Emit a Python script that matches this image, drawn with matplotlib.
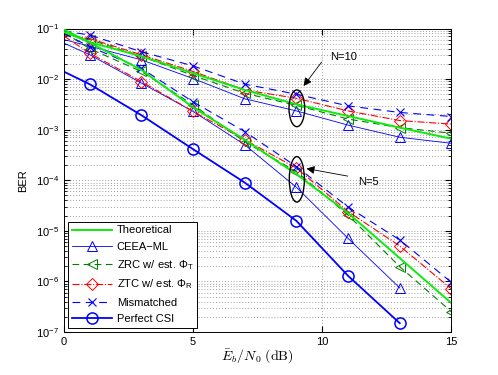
import numpy as np
import matplotlib
matplotlib.use("Agg")
import matplotlib.pyplot as plt
from matplotlib.patches import Ellipse
from matplotlib.ticker import FixedLocator, NullFormatter

plt.rcParams['font.family'] = ['Liberation Sans', 'DejaVu Sans']
plt.rcParams['mathtext.fontset'] = 'cm'

snr = [0, 1, 3, 5, 7, 9, 11, 13, 15]
snr_p = [0, 1, 3, 5, 7, 9, 11, 13]

# log10(BER) values
theo_10 = [-1.07, -1.27, -1.55, -1.885, -2.215, -2.50, -2.73, -2.96, -3.18]
theo_5 = [-1.02, -1.28, -1.82, -2.56, -3.20, -3.88, -4.65, -5.54, -6.43]
ceea_10 = [-1.22, -1.35, -1.62, -1.99, -2.39, -2.63, -2.91, -3.15, -3.27]
ceea_5 = [-1.29, -1.52, -2.08, -2.64, -3.30, -4.14, -5.15, -6.13]
zrc_10 = [-1.10, -1.22, -1.55, -1.93, -2.28, -2.52, -2.79, -2.96, -3.07]
zrc_5 = [-1.08, -1.40, -1.85, -2.51, -3.24, -3.83, -4.69, -5.71, -6.60]
ztc_10 = [-1.13, -1.20, -1.52, -1.85, -2.215, -2.38, -2.63, -2.82, -2.89]
ztc_5 = [-1.15, -1.49, -2.05, -2.64, -3.20, -3.76, -4.62, -5.30, -6.15]
mis_10 = [-1.05, -1.13, -1.46, -1.74, -2.10, -2.30, -2.53, -2.66, -2.74]
mis_5 = [-1.10, -1.36, -1.79, -2.45, -3.04, -3.73, -4.53, -5.18, -6.02]
perf = [-1.854, -2.103, -2.715, -3.387, -4.047, -4.804, -5.891, -6.826]

y_decades = [-7, -6, -5, -4, -3, -2, -1]
x_ticks = [0, 5, 10, 15]

def p(v):
    return 10.0 ** np.array(v, dtype=float)

fig = plt.figure(figsize=(4.98, 3.75), dpi=100)
ax = fig.add_axes([0.1285, 0.1147, 0.778, 0.8093])

G = (0.05, 0.92, 0.05)
DG = (0.0, 0.5, 0.0)
R = (1.0, 0.0, 0.0)
B = (0.0, 0.0, 1.0)
ms = 7
me = list(range(1, 9))

ax.plot(snr, p(theo_10), '-', color=G, lw=1.4, label='Theoretical', zorder=3)
ax.plot(snr, p(theo_5), '-', color=G, lw=1.4, zorder=3)
ax.plot(snr, p(ceea_10), '-', color=B, lw=0.6, marker='^', ms=ms, mfc='none', mew=0.7, markevery=me, label='CEEA\u2212ML')
ax.plot(snr_p, p(ceea_5), '-', color=B, lw=0.6, marker='^', ms=ms, mfc='none', mew=0.7, markevery=list(range(1, 8)))
ax.plot(snr, p(zrc_10), '--', color=DG, lw=0.8, marker='<', ms=ms, mfc='none', mew=0.7, markevery=me, dashes=(6, 4), label=r'ZRC w/ est. $\mathregular{\Phi_T}$')
ax.plot(snr, p(zrc_5), '--', color=DG, lw=0.8, marker='<', ms=ms, mfc='none', mew=0.7, markevery=me, dashes=(6, 4))
ax.plot(snr, p(ztc_10), '-.', color=R, lw=0.8, marker='D', ms=6, mfc='none', mew=0.7, markevery=me, label=r'ZTC w/ est. $\mathregular{\Phi_R}$')
ax.plot(snr, p(ztc_5), '-.', color=R, lw=0.8, marker='D', ms=6, mfc='none', mew=0.7, markevery=me)
ax.plot(snr, p(mis_10), '--', color=B, lw=0.8, marker='x', ms=6, mew=0.8, markevery=me, dashes=(7, 5), label='Mismatched')
ax.plot(snr, p(mis_5), '--', color=B, lw=0.8, marker='x', ms=6, mew=0.8, markevery=me, dashes=(7, 5))
ax.plot(snr_p, p(perf), '-', color=B, lw=1.3, marker='o', ms=8, mfc='none', mew=1.1, markevery=list(range(1, 8)), label='Perfect CSI')

ax.set_yscale('log')
ax.set_xlim(0, 15)
ax.set_ylim(1e-7, 1e-1)
ax.set_xticks(x_ticks)
ax.set_yticks(p(y_decades))
minor = [m * 10.0 ** d for d in y_decades[:-1] for m in range(2, 10)]
ax.yaxis.set_minor_locator(FixedLocator(minor))
ax.yaxis.set_minor_formatter(NullFormatter())
ax.tick_params(which='both', direction='in', top=True, right=True, labelsize=8)
ax.tick_params(which='major', length=4)
ax.tick_params(which='minor', length=2)
gstyle = dict(linestyle=(0, (1, 2.5)), color='0.5', lw=0.6)
ax.grid(True, which='major', **gstyle)
ax.grid(True, which='minor', axis='y', **gstyle)
for s in ax.spines.values():
    s.set_linewidth(0.7)

ax.set_xlabel(r'$\bar{E}_b/N_0\ \mathrm{(dB)}$', fontsize=10, labelpad=0)
ax.set_ylabel('BER', fontsize=8, labelpad=6)

# ellipses and annotations
ax.add_patch(Ellipse((0.601, 0.737), 0.0405, 0.121, transform=ax.transAxes, fill=False, ec='k', lw=1.0, zorder=5))
ax.add_patch(Ellipse((0.601, 0.503), 0.039, 0.150, transform=ax.transAxes, fill=False, ec='k', lw=1.0, zorder=5))
ax.annotate('', xy=(9.21, 6.6e-3), xytext=(10.04, 2.4e-2),
            arrowprops=dict(arrowstyle='-|>', color='k', lw=0.6, mutation_scale=12), zorder=6)
ax.text(10.82, 2.77e-2, 'N=10', fontsize=8, ha='center', va='center')
ax.annotate('', xy=(9.28, 1.74e-4), xytext=(11.09, 1.18e-4),
            arrowprops=dict(arrowstyle='-|>', color='k', lw=0.6, mutation_scale=12), zorder=6)
ax.text(11.8, 9.3e-5, 'N=5', fontsize=8, ha='center', va='center')

leg = ax.legend(loc='lower left', fontsize=8, handlelength=3.6, borderaxespad=0.4,
                fancybox=False, framealpha=1, edgecolor='k', labelspacing=0.55,
                borderpad=0.35, handletextpad=0.4)
leg.get_frame().set_linewidth(0.7)

fig.savefig('out.png', dpi=100)
